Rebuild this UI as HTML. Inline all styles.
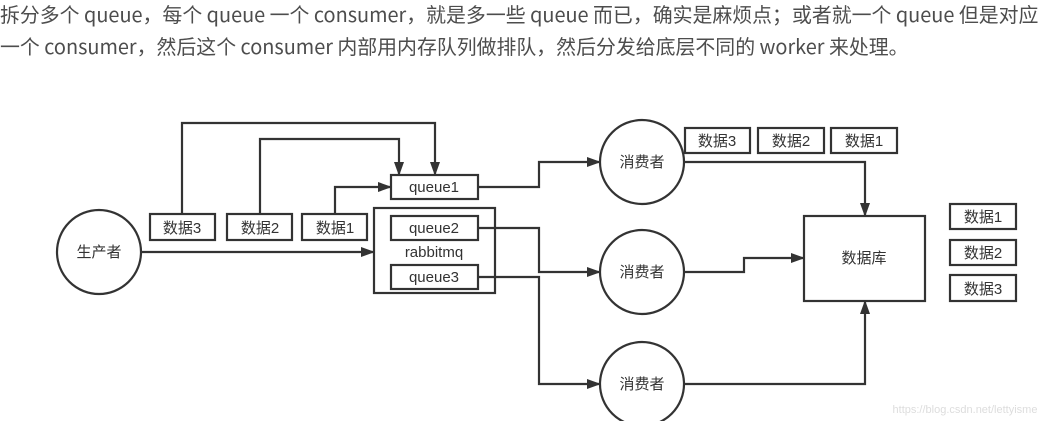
<!DOCTYPE html>
<html><head><meta charset="utf-8"><style>
body{margin:0;width:1041px;height:421px;background:#fff;overflow:hidden;position:relative;font-family:"Liberation Sans","Noto Sans CJK SC",sans-serif;}
.t{position:absolute;left:0;white-space:nowrap;font-size:19.9px;line-height:28px;color:#4d4d4d;font-family:"Noto Sans CJK SC","Liberation Sans",sans-serif;}
</style></head><body>
<div class="t" style="top:0px">拆分多个 queue，每个 queue 一个 consumer，就是多一些 queue 而已，确实是麻烦点；或者就一个 queue 但是对应</div>
<div class="t" style="top:32px">一个 consumer，然后这个 consumer 内部用内存队列做排队，然后分发给底层不同的 worker 来处理。</div>
<svg width="1041" height="421" style="position:absolute;left:0;top:0" font-family="Liberation Sans, Noto Sans CJK SC, sans-serif" font-size="15" fill="none">
<defs><marker id="b" markerWidth="14" markerHeight="10" refX="13" refY="5" orient="auto" markerUnits="userSpaceOnUse"><path d="M0,0 L14,5 L0,10z" fill="#333"/></marker></defs>
<g stroke="#333" stroke-width="2.2">
<circle cx="99" cy="252" r="42" fill="#fff"/>
<rect x="150" y="214" width="65" height="26"/><rect x="227" y="214" width="65" height="26"/><rect x="302" y="214" width="65" height="26"/>
<rect x="391" y="175" width="87" height="24"/>
<rect x="374" y="208" width="121" height="85"/>
<rect x="391" y="216" width="87" height="24"/><rect x="391" y="265" width="87" height="24"/>
<circle cx="642" cy="162" r="42"/><circle cx="642" cy="272" r="42"/><circle cx="642" cy="384" r="42"/>
<rect x="685" y="128" width="65" height="25"/><rect x="758" y="128" width="66" height="25"/><rect x="831" y="128" width="66" height="25"/>
<rect x="804" y="216" width="121" height="85"/>
<rect x="950" y="204" width="66" height="25"/><rect x="950" y="240" width="66" height="25"/><rect x="950" y="275" width="66" height="26"/>
<polyline points="182,214 182,123 435,123 435,175" marker-end="url(#b)"/>
<polyline points="260,214 260,139 399,139 399,175" marker-end="url(#b)"/>
<polyline points="335,214 335,187 391,187" marker-end="url(#b)"/>
<polyline points="141,252 374,252" marker-end="url(#b)"/>
<polyline points="478,187 539,187 539,162 600,162" marker-end="url(#b)"/>
<polyline points="478,228 539,228 539,272 600,272" marker-end="url(#b)"/>
<polyline points="478,277 539,277 539,384 600,384" marker-end="url(#b)"/>
<polyline points="684,162 865,162 865,216" marker-end="url(#b)"/>
<polyline points="684,272 744,272 744,258 804,258" marker-end="url(#b)"/>
<polyline points="684,384 865,384 865,301" marker-end="url(#b)"/>
</g>
<g fill="#333" text-anchor="middle" font-size="15">
<text x="99" y="257">生产者</text>
<text x="182" y="233">数据3</text><text x="260" y="233">数据2</text><text x="335" y="233">数据1</text>
<text x="434" y="192">queue1</text><text x="434" y="233">queue2</text><text x="434" y="282">queue3</text>
<text x="434" y="257">rabbitmq</text>
<text x="642" y="167">消费者</text><text x="642" y="277">消费者</text><text x="642" y="389">消费者</text>
<text x="717" y="146">数据3</text><text x="791" y="146">数据2</text><text x="864" y="146">数据1</text>
<text x="864" y="263">数据库</text>
<text x="983" y="222">数据1</text><text x="983" y="258">数据2</text><text x="983" y="294">数据3</text>
<text x="965" y="413" font-size="11" fill="#ddd">https://blog.csdn.net/lettyisme</text>
</g>
</svg>
</body></html>
